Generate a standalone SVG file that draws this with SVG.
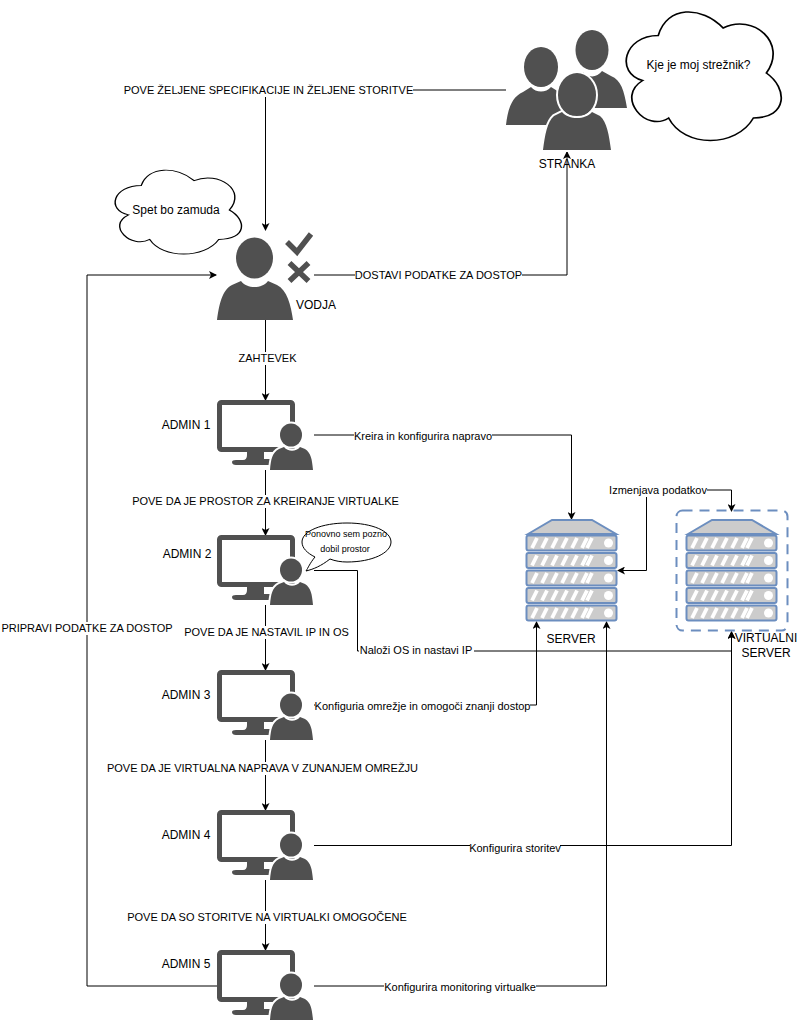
<svg xmlns="http://www.w3.org/2000/svg" xmlns:xlink="http://www.w3.org/1999/xlink" width="797" height="1021" viewBox="0 0 797 1021">
<style>
text{font-family:"Liberation Sans",Arial,sans-serif;font-size:11px;fill:#000;text-anchor:middle}
.n{font-size:12px}
.s{font-size:9px}
.c{fill:none;stroke:#000;stroke-width:1}
.a{fill:none;stroke:#000;stroke-width:1;marker-end:url(#arr)}
.bg{fill:#fff}
.d{fill:#505050}
.ol{fill:#fff;stroke:#000;stroke-width:1;vector-effect:non-scaling-stroke}
.h{stroke:#fff;stroke-width:4;fill:#505050;paint-order:stroke}
.row{fill:#ccc;stroke:#6c8ebf;stroke-width:2}
.sl{stroke:#fff;stroke-width:3.8;fill:none}
</style>
<defs>
<marker id="arr" viewBox="0 0 8 8" refX="7" refY="4" markerWidth="8" markerHeight="8" orient="auto" markerUnits="userSpaceOnUse"><path d="M0 0L8 4L0 8L2 4Z" fill="#000"/></marker>
<path id="cloud" d="M25 25C5 25 0 50 16 55C0 66 18 90 31 80C40 100 70 100 80 80C100 80 100 60 87.500 50C100 30 80 10 62.500 20C50 5 30 5 25 25Z"/>
<g id="admin">
<rect x="219.500" y="402.500" width="73" height="47" rx="2" fill="none" stroke="#505050" stroke-width="5"/>
<path class="d" d="M247 450H264V459H273V465H236Q232 465 232 462Q232 460 236 460H243Q247 460 247 455Z"/>
<ellipse class="h" cx="291" cy="435" rx="11" ry="11.500"/>
<path class="h" d="M270 470C271 459 272 453 279 449L284 447C288 452 296 452 300 447L305 449C311 453 312 459 313 470Z"/>
</g>
<g id="rack">
<path d="M528 534L552 520H592L616 534Z" fill="#ccc" stroke="#6c8ebf" stroke-width="2"/>
<g id="rw">
<rect class="row" x="526.500" y="535.500" width="90" height="15" rx="2"/>
<path class="sl" d="M532 548L537 538M542 548L547 538M552 548L557 538M562 548L567 538M572 548L577 538M582 548L587 538M587 548L592 538"/>
<circle cx="608.500" cy="543" r="4.500" fill="#fff"/>
</g>
<use href="#rw" y="17.500"/><use href="#rw" y="35"/><use href="#rw" y="52.500"/><use href="#rw" y="70"/>
</g>
</defs>
<rect width="797" height="1021" fill="#fff"/>
<g id="connectors">
<path class="a" d="M506 90H265.500V230"/>
<path class="a" d="M314 275H567V152"/>
<path class="a" d="M265.500 320V400"/>
<path class="a" d="M314 435H571.500V519"/>
<path class="a" d="M265.500 470V535"/>
<path class="a" d="M265.500 605V670"/>
<path class="a" d="M265.500 740V810"/>
<path class="a" d="M265.500 880V950"/>
<path class="a" d="M218 986H87V275H216"/>
<path class="a" d="M314 570.500H357.500V651H731.500V632"/>
<path class="a" d="M314 705H536.500V622"/>
<path class="a" d="M314 845.500H731.500V632"/>
<path class="a" d="M314 986H606.500V622"/>
<path class="a" d="M646.500 490V570.500H618"/>
<path class="a" d="M646.500 490H731.500V511"/>
<g id="labels">
<rect class="bg" x="124" y="84" width="289" height="13"/><text x="268.500" y="94">POVE ŽELJENE SPECIFIKACIJE IN ŽELJENE STORITVE</text>
<rect class="bg" x="355" y="269" width="167" height="13"/><text x="438.500" y="279">DOSTAVI PODATKE ZA DOSTOP</text>
<rect class="bg" x="238" y="352" width="59" height="13"/><text x="267.500" y="362">ZAHTEVEK</text>
<rect class="bg" x="354" y="430" width="138" height="13"/><text x="423" y="440">Kreira in konfigurira napravo</text>
<rect class="bg" x="132" y="495" width="267" height="13"/><text x="265.500" y="505">POVE DA JE PROSTOR ZA KREIRANJE VIRTUALKE</text>
<rect class="bg" x="184" y="626" width="165" height="13"/><text x="266.500" y="636">POVE DA JE NASTAVIL IP IN OS</text>
<rect class="bg" x="107" y="762" width="311" height="13"/><text x="262.500" y="772">POVE DA JE VIRTUALNA NAPRAVA V ZUNANJEM OMREŽJU</text>
<rect class="bg" x="127" y="911" width="280" height="13"/><text x="267" y="921">POVE DA SO STORITVE NA VIRTUALKI OMOGOČENE</text>
<rect class="bg" x="1" y="622" width="172" height="13"/><text x="87" y="632">PRIPRAVI PODATKE ZA DOSTOP</text>
<rect class="bg" x="359" y="644" width="115" height="13"/><text x="416" y="654">Naloži OS in nastavi IP</text>
<rect class="bg" x="315" y="700" width="215" height="13"/><text x="422.500" y="710">Konfiguria omrežje in omogoči znanji dostop</text>
<rect class="bg" x="470" y="842" width="90" height="13"/><text x="515" y="852">Konfigurira storitev</text>
<rect class="bg" x="384" y="981" width="152" height="13"/><text x="460" y="991">Konfigurira monitoring virtualke</text>
<rect class="bg" x="609" y="484" width="98" height="13"/><text x="658" y="494">Izmenjava podatkov</text>
</g>
</g>
<g id="cloud-stranka"><use href="#cloud" class="ol" transform="translate(615 -2) scale(1.73 1.5)"/><text class="n" x="698.500" y="69">Kje je moj strežnik?</text></g>
<g id="cloud-vodja"><use href="#cloud" class="ol" transform="translate(106 161) scale(1.41 0.98)"/><text class="n" x="176" y="214">Spet bo zamuda</text></g>
<g id="stranka">
<ellipse class="d" cx="592" cy="50" rx="16.500" ry="20"/>
<path class="d" d="M574 76L583 72C588 78 597 78 602 71L611 76C621 80 624 90 627 108H560Z"/>
<ellipse class="d" cx="541" cy="67" rx="17" ry="20"/>
<path class="d" d="M523 92L531 87C536 93 546 93 551 87L559 92C570 97 574 108 577 125H506C508 108 512 97 523 92Z"/>
<ellipse class="h" cx="577" cy="95" rx="19" ry="22"/>
<path class="h" d="M554 116L562 112C569 120 585 120 592 112L600 116C607 122 609 135 611 150H543C545 135 547 122 554 116Z"/>
<text class="n" x="567" y="168">STRANKA</text>
</g>
<g id="vodja">
<ellipse class="d" cx="254.500" cy="258" rx="18.500" ry="20.500"/>
<path class="d" d="M232 285L241 281C247 289 262 289 268 281L277 285C287 290 291 305 293 320H217C219 305 222 290 232 285Z"/>
<path d="M287 242L297 252L311 234M289.500 263L308.500 281M308.500 263L289.500 281" fill="none" stroke="#505050" stroke-width="5.500"/>
<text class="n" x="316" y="309">VODJA</text>
</g>
<g id="admin1"><use href="#admin"/><text class="n" x="186" y="429">ADMIN 1</text></g>
<g id="admin2"><use href="#admin" y="135"/><text class="n" x="187" y="558">ADMIN 2</text></g>
<g id="admin3"><use href="#admin" y="270"/><text class="n" x="186" y="699">ADMIN 3</text></g>
<g id="admin4"><use href="#admin" y="410"/><text class="n" x="186" y="839">ADMIN 4</text></g>
<g id="admin5"><use href="#admin" y="550"/><text class="n" x="186" y="968">ADMIN 5</text></g>
<g id="callout">
<path d="M315 557C310 563 308 568 306 571C314 569 321 566 330 559C335 561 341 562 347 562C372 562 391 553 391 542C391 531 372 523 347 523C322 523 302 531 302 542C302 548 307 553 315 557Z" fill="#fff" stroke="#000"/>
<text class="s" x="346" y="537">Ponovno sem pozno</text>
<text class="s" x="345" y="552">dobil prostor</text>
</g>
<g id="server"><use href="#rack"/><text class="n" x="571" y="643">SERVER</text></g>
<g id="virtual-server">
<rect x="676.500" y="510.500" width="111" height="120" rx="6" fill="none" stroke="#6c8ebf" stroke-width="2" stroke-dasharray="10 7"/>
<use href="#rack" x="160"/>
<text class="n" x="766" y="642">VIRTUALNI</text><text class="n" x="766" y="657">SERVER</text>
</g>
</svg>
